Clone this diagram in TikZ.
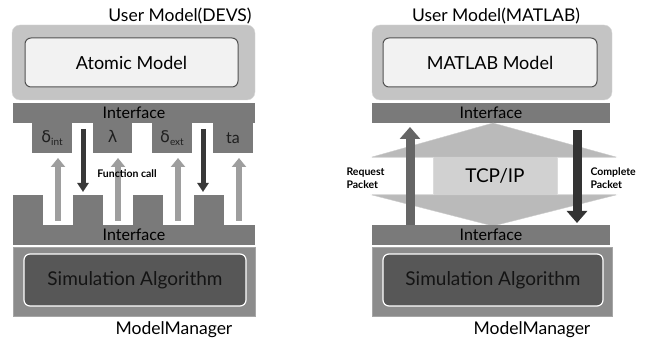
\documentclass[tikz,border=0pt]{standalone}
\usepackage{fontspec}
\setmainfont{Lato}
\newfontfamily\greekfont{DejaVu Sans}
\newcommand{\fnlabel}[2]{{\greekfont #1}\raisebox{-3pt}{\fontsize{10}{12}\selectfont #2}}
\usetikzlibrary{arrows.meta}

\begin{document}
\begin{tikzpicture}[
  x=1pt, y=-1pt, every node/.style={font=\fontsize{17.5}{19}\selectfont},
  userbox/.style={fill=black!23, draw=black!15, rounded corners=8pt, minimum width=#1},
  modelbox/.style={fill=black!5, draw=black!68, line width=1pt, rounded corners=6pt,
                   minimum height=49pt, font=\fontsize{18}{20}\selectfont},
  bar/.style={fill=black!52, inner sep=0pt, minimum height=20pt, minimum width=#1,
              font=\fontsize{16}{18}\selectfont},
  prong/.style={fill=black!52, inner sep=0pt, minimum height=30pt, minimum width=#1,
                font=\fontsize{16}{18}\selectfont, text=black!88},
  mgrbox/.style={fill=black!45, draw=black!35, minimum height=69pt, minimum width=#1},
  algbox/.style={fill=black!66, draw=white, line width=1.2pt, rounded corners=6pt,
                 minimum height=52pt, minimum width=#1,
                 font=\fontsize{19}{21}\selectfont, text=black!92},
  callup/.style={line width=6pt, black!38, -{Triangle[width=14pt,length=9pt]}},
  calldown/.style={line width=5pt, black!78, -{Triangle[width=11pt,length=9pt]}},
  pktarrow/.style={line width=9pt, -{Triangle[width=20pt,length=12pt]}},
  note/.style={font=\fontsize{10.5}{12.5}\selectfont\bfseries, align=left},
  wing/.style={fill=black!27, draw=black!20},
]
  \useasboundingbox (0,0) rectangle (654,344);

  % DEVS side
  \node (devstitle) at (180,16) {User Model(DEVS)};
  \node[userbox=243pt, minimum height=75pt] (devsuser) at (133.5,62.5) {};
  \node[modelbox, minimum width=213pt] (atomic) at (131.5,62.5) {Atomic Model};

  \node[bar=242pt] (iftopL) at (134,113) {Interface};
  \node[prong=40pt] (dint) at (52,138) {\fnlabel{δ}{int}};
  \node[prong=39pt] (lam) at (112.5,138) {\fnlabel{λ}{}};
  \node[prong=40pt] (dext) at (172,138) {\fnlabel{δ}{ext}};
  \node[prong=40pt] (ta) at (233,138) {ta};

  \node[bar=242pt] (ifbotL) at (134,235) {Interface};
  \foreach \px [count=\i] in {28,88,148,208.5}
    \node[prong=30pt] (pin\i) at (\px,210) {};

  \node[mgrbox=242pt] (mmL) at (134,281.5) {};
  \node[algbox=222pt] (simL) at (135,280) {Simulation Algorithm};
  \node (mmtextL) at (174,330) {ModelManager};

  \foreach \ax [count=\i] in {58,118,178,239} {
    \coordinate (up\i) at (\ax,221);
    \coordinate (uptip\i) at (\ax,158);
    \draw[callup] (up\i) -- (uptip\i);
  }
  \foreach \ax [count=\i] in {83,203} {
    \coordinate (dn\i) at (\ax,129);
    \coordinate (dntip\i) at (\ax,192);
    \draw[calldown] (dn\i) -- (dntip\i);
  }
  \node[note] (fcall) at (127,174) {Function call};

  % MATLAB side
  \node (mattitle) at (496,16) {User Model(MATLAB)};
  \node[userbox=240pt, minimum height=75pt] (matuser) at (492,62.5) {};
  \node[modelbox, minimum width=214pt] (matmodel) at (490,62.5) {MATLAB Model};

  \node[bar=238pt] (iftopR) at (491,113) {Interface};
  \filldraw[wing] (372,157) -- (493,123) -- (616,157) -- cycle;
  \filldraw[wing] (372,195) -- (493,226) -- (616,195) -- cycle;
  \fill[black!18] (433,157) rectangle (557,195);
  \draw[black!14, line width=1pt] (372,157.5) -- (433,157.5) -- (433,194.5) -- (372,194.5);
  \draw[black!14, line width=1pt] (616,157.5) -- (557,157.5) -- (557,194.5) -- (616,194.5);
  \node[font=\fontsize{19}{21}\selectfont] (tcp) at (495,176) {TCP/IP};
  \node[bar=238pt] (ifbotR) at (491,235) {Interface};

  \coordinate (reqfoot) at (410,225);
  \coordinate (reqtip) at (410,127);
  \draw[pktarrow, black!60] (reqfoot) -- (reqtip);
  \coordinate (cmpfoot) at (577,130);
  \coordinate (cmptip) at (577,223);
  \draw[pktarrow, black!80] (cmpfoot) -- (cmptip);
  \node[note, anchor=west] (req) at (343,178) {Request\\Packet};
  \node[note, anchor=west] (cmp) at (587,178) {Complete\\Packet};

  \node[mgrbox=240pt] (mmR) at (492,281.5) {};
  \node[algbox=220pt] (simR) at (493,280) {Simulation Algorithm};
  \node (mmtextR) at (532,330) {ModelManager};
\end{tikzpicture}
\end{document}
